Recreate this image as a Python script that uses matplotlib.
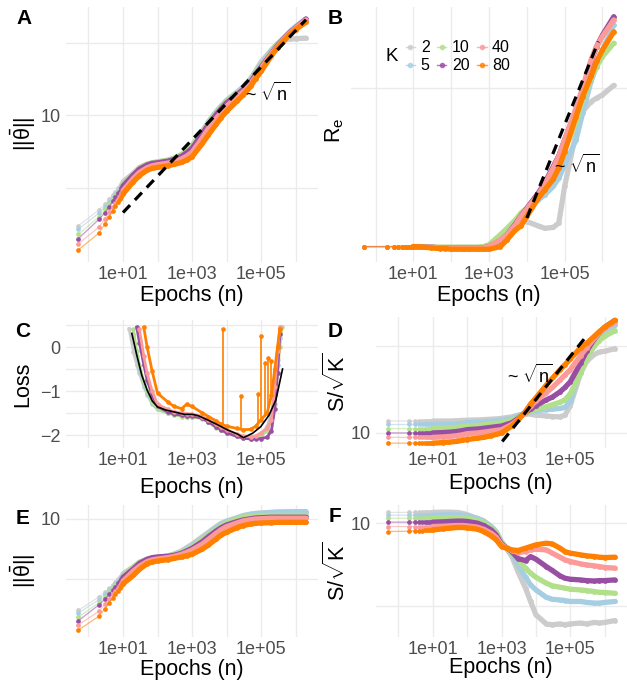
import matplotlib
matplotlib.use('Agg')
import matplotlib.pyplot as plt
from matplotlib.lines import Line2D
from matplotlib.ticker import FixedLocator, FixedFormatter, NullFormatter
import numpy as np

plt.rcParams['font.family'] = ['Liberation Sans', 'DejaVu Sans']
plt.rcParams['mathtext.fontset'] = 'custom'
plt.rcParams['mathtext.rm'] = 'Liberation Sans'
plt.rcParams['mathtext.it'] = 'Liberation Sans:italic'
plt.rcParams['mathtext.bf'] = 'Liberation Sans:bold'

K_values = [2, 5, 10, 20, 40, 80]
colors = ['#CCCCCC', '#A6CEE3', '#B2DF8A', '#984EA3', '#FB9A99', '#FF7F00']

epochs = [0.5, 2, 3, 4, 5, 6, 7, 8, 9, 10, 20, 30, 50, 70, 100, 200, 300, 500, 700,
          1e3, 2e3, 3e3, 5e3, 7e3, 1e4, 2e4, 3e4, 5e4, 7e4, 1e5, 2e5, 3e5, 5e5, 7e5, 1e6, 2e6]

# A: parameter norm, first run
norm_a = [
    [0.30, 0.50, 0.60, 0.70, 0.80, 0.89, 0.99, 1.06, 1.13, 1.22, 1.59, 1.90, 2.13, 2.22, 2.27, 2.39, 2.52, 2.83, 3.2,
     3.8, 6.0, 8.1, 11.1, 13.3, 16.0, 20.9, 24.4, 32, 41, 54, 79, 96, 110, 112, 113, 115],
    [0.27, 0.45, 0.555, 0.65, 0.745, 0.83, 0.92, 0.99, 1.06, 1.13, 1.56, 1.86, 2.09, 2.18, 2.22, 2.37, 2.5, 2.8, 3.2,
     3.7, 5.9, 8.1, 11.1, 13.3, 16.0, 20.2, 23.7, 31, 39, 50, 78, 96, 122, 143, 166, 211],
    [0.23, 0.40, 0.51, 0.60, 0.70, 0.785, 0.87, 0.94, 1.01, 1.09, 1.57, 1.90, 2.13, 2.22, 2.29, 2.42, 2.58, 2.9, 3.2,
     3.8, 6.0, 7.9, 10.8, 13.0, 15.6, 19.8, 23.2, 30, 38, 48, 75, 93, 118, 137, 157, 195],
    [0.20, 0.37, 0.46, 0.555, 0.66, 0.745, 0.845, 0.91, 0.99, 1.06, 1.51, 1.82, 2.07, 2.18, 2.22, 2.34, 2.47, 2.74, 3.05,
     3.5, 5.6, 7.5, 10.2, 12.3, 14.8, 19.2, 22.5, 28.6, 36.5, 46, 71, 91, 118, 139, 159, 211],
    [0.17, 0.29, 0.38, 0.47, 0.555, 0.63, 0.71, 0.78, 0.845, 0.92, 1.36, 1.64, 1.90, 2.02, 2.09, 2.2, 2.29, 2.52, 2.74,
     3.1, 4.9, 6.6, 9.0, 10.9, 13.3, 17.8, 20.9, 27.2, 34, 44, 70, 88, 116, 136, 157, 205],
    [0.14, 0.24, 0.32, 0.40, 0.49, 0.57, 0.64, 0.71, 0.76, 0.83, 1.22, 1.48, 1.76, 1.86, 1.92, 2.02, 2.11, 2.25, 2.42,
     2.69, 4.1, 5.4, 7.5, 9.3, 11.3, 15.7, 18.8, 25, 32, 40, 66, 85, 111, 131, 151, 190],
]
sqrt_a_n = [10, 2e6]
sqrt_a_v = [0.46, 206]

# B: effective rank
rank_b = [
    [1.11, 1.11, 1.11, 1.11, 1.11, 1.11, 1.11, 1.11, 1.11, 1.11, 1.11, 1.10, 1.10, 1.10, 1.10, 1.10, 1.10, 1.10, 1.10,
     1.12, 1.25, 1.37, 1.57, 1.61, 1.57, 1.48, 1.43, 1.45, 1.54, 2.56, 5.36, 7.24, 8.3, 8.71, 9.12, 10.4],
    [1.11, 1.11, 1.11, 1.11, 1.11, 1.11, 1.11, 1.11, 1.11, 1.11, 1.10, 1.10, 1.09, 1.09, 1.09, 1.09, 1.09, 1.09, 1.09,
     1.10, 1.21, 1.31, 1.52, 1.69, 1.83, 2.12, 2.28, 2.56, 2.87, 3.45, 4.88, 7.07, 11.0, 13.5, 17.0, 24.1],
    [1.11, 1.11, 1.11, 1.11, 1.11, 1.11, 1.11, 1.11, 1.11, 1.11, 1.10, 1.10, 1.10, 1.10, 1.10, 1.10, 1.10, 1.10, 1.11,
     1.14, 1.31, 1.43, 1.61, 1.77, 1.89, 2.22, 2.56, 3.0, 3.37, 4.25, 6.3, 8.5, 11.5, 13.5, 15.5, 18.7],
    [1.11, 1.11, 1.11, 1.11, 1.11, 1.11, 1.11, 1.11, 1.11, 1.11, 1.10, 1.10, 1.09, 1.09, 1.09, 1.09, 1.09, 1.09, 1.09,
     1.11, 1.21, 1.31, 1.52, 1.70, 1.89, 2.33, 2.70, 3.37, 3.91, 4.88, 7.4, 9.8, 14.5, 17.8, 20.9, 27],
    [1.11, 1.11, 1.11, 1.11, 1.11, 1.11, 1.11, 1.11, 1.11, 1.11, 1.10, 1.10, 1.09, 1.09, 1.09, 1.09, 1.09, 1.09, 1.09,
     1.11, 1.22, 1.31, 1.50, 1.69, 1.87, 2.28, 2.64, 3.30, 3.88, 4.88, 7.58, 10.1, 14.8, 17.8, 20.5, 25.8],
    [1.11, 1.11, 1.11, 1.11, 1.11, 1.11, 1.11, 1.11, 1.11, 1.11, 1.10, 1.09, 1.08, 1.08, 1.07, 1.07, 1.07, 1.07, 1.07,
     1.07, 1.11, 1.22, 1.40, 1.48, 1.69, 2.17, 2.44, 2.83, 3.30, 4.15, 6.75, 8.9, 11.8, 14.5, 17.0, 21.9],
]
sqrt_b_n = [1.0e4, 7.8e5]
sqrt_b_v = [1.65, 19.1]

# C: loss
loss_epochs = [15, 20, 25, 30, 40, 50, 70, 100, 200, 300, 500, 700, 1e3, 2e3, 3e3, 5e3, 7e3, 1e4, 2e4, 3e4,
               5e4, 7e4, 1e5, 1.5e5, 2e5, 2.5e5, 3e5, 3.5e5, 4e5]
nan = float('nan')
loss_c = [
    [0.42, -0.11, -0.41, -0.6, -0.9, -1.08, -1.3, -1.42, -1.5, -1.53, -1.57, -1.58, -1.58, -1.62, -1.7, -1.82, -1.88,
     -1.94, -2.02, -2.06, -2.08, -2.05, -2.0, -1.8, -1.5, -1.0, -0.3, 0.3, nan],
    [nan, 0.3, -0.2, -0.5, -0.85, -1.05, -1.28, -1.42, -1.5, -1.53, -1.56, -1.58, -1.58, -1.62, -1.7, -1.82, -1.88,
     -1.94, -2.02, -2.06, -2.08, -2.05, -2.0, -1.85, -1.55, -1.1, -0.4, 0.2, nan],
    [nan, 0.4, -0.1, -0.4, -0.8, -1.0, -1.25, -1.4, -1.5, -1.54, -1.58, -1.59, -1.59, -1.63, -1.71, -1.83, -1.89,
     -1.95, -2.03, -2.07, -2.08, -2.06, -2.02, -1.9, -1.65, -1.3, -0.6, 0.0, 0.45],
    [nan, nan, 0.45, 0.1, -0.4, -0.75, -1.1, -1.35, -1.48, -1.52, -1.55, -1.57, -1.57, -1.62, -1.7, -1.82, -1.88,
     -1.95, -2.03, -2.07, -2.09, -2.09, -2.08, -2.05, -1.9, -1.4, -0.6, 0.3, nan],
    [nan, nan, nan, 0.4, -0.2, -0.6, -1.0, -1.3, -1.42, -1.47, -1.5, -1.52, -1.52, -1.58, -1.65, -1.76, -1.82,
     -1.88, -1.98, -2.02, -2.04, -2.02, -1.95, -1.85, -1.65, -0.9, -0.1, 0.45, nan],
    [nan, nan, nan, nan, 0.45, 0.0, -0.55, -1.05, -1.25, -1.35, -1.4, -1.3, -1.35, -1.5, -1.58, -1.68, -1.75,
     -1.8, -1.85, -1.88, -1.87, -1.8, -1.65, -1.5, -1.1, -0.5, 0.0, 0.4, nan],
]
spike_epochs = [8.1e3, 2.6e4, 7.9e4, 1.03e5, 1.26e5, 1.6e5, 1.9e5]
spike_base = [-1.77, -1.87, -1.78, -1.65, -1.58, -1.45, -1.2]
spike_top = [0.42, -1.11, -1.07, 0.26, -0.37, -0.26, -0.31]
smooth_epochs = [18, 25, 35, 50, 71, 100, 170, 320, 600, 1000, 1500, 2900, 5600, 1.1e4, 2.1e4, 3.1e4,
                 5.7e4, 9.8e4, 1.7e5, 2.7e5, 4.2e5]
smooth_loss = [0.31, -0.18, -0.64, -0.98, -1.23, -1.36, -1.43, -1.48, -1.53, -1.53, -1.56, -1.66, -1.77, -1.89,
               -1.98, -2.06, -1.96, -1.81, -1.55, -1.20, -0.50]

# D: S / sqrt(K), first run
s_d = [
    [13.7, 13.7, 13.7, 13.7, 13.7, 13.7, 13.7, 13.7, 13.7, 13.7, 13.7, 13.7, 13.8, 13.9, 14.0, 14.1, 14.2, 14.4, 14.5,
     14.7, 15.3, 16.0, 16.7, 16.4, 16.0, 15.7, 15.4, 15.3, 16.0, 20.6, 48.5, 66.6, 79.8, 85, 87, 93],
    [12.5, 12.5, 12.5, 12.5, 12.5, 12.5, 12.5, 12.5, 12.5, 12.5, 12.6, 12.6, 12.7, 12.8, 13.1, 13.2, 13.4, 13.6, 13.8,
     14.0, 14.6, 15.6, 16.9, 17.5, 18.0, 18.5, 18.8, 19.1, 19.7, 23.2, 55.6, 83.5, 115, 131, 150, 172],
    [11.2, 11.2, 11.2, 11.2, 11.2, 11.2, 11.2, 11.2, 11.2, 11.2, 11.3, 11.4, 11.6, 11.8, 12.0, 12.2, 12.4, 12.7, 12.9,
     13.1, 14.0, 15.0, 17.0, 18.0, 18.8, 20.0, 21.1, 22.5, 24.0, 28.2, 48.5, 72.9, 100, 115, 129, 150],
    [10.0, 10.0, 10.0, 10.0, 10.0, 10.0, 10.0, 10.0, 10.0, 10.0, 10.1, 10.2, 10.4, 10.6, 10.9, 11.1, 11.3, 11.6, 11.8,
     12.0, 13.1, 14.6, 17.2, 18.8, 20.6, 24.0, 25.8, 29.6, 33.3, 38.7, 63.7, 87.3, 120, 141, 164, 197],
    [8.9, 8.9, 8.9, 8.9, 8.9, 8.9, 8.9, 8.9, 8.9, 8.9, 9.0, 9.1, 9.3, 9.5, 9.8, 10.0, 10.2, 10.5, 10.7,
     10.9, 12.5, 14.2, 17.5, 20.2, 23.2, 29.0, 33.3, 40.5, 46.4, 53.1, 77.6, 95.5, 122, 141, 160, 188],
    [7.63, 7.63, 7.63, 7.63, 7.63, 7.63, 7.63, 7.63, 7.63, 7.63, 7.75, 7.85, 8.0, 8.2, 8.4, 8.7, 8.9, 9.3, 9.6,
     10.0, 12.0, 14.0, 17.7, 21.5, 25.3, 35.4, 42.4, 53.1, 60.8, 71, 95.5, 107, 129, 146, 164, 197],
]
sqrt_d_n = [1.05e3, 3.3e5]
sqrt_d_v = [7.98, 137]

# E: parameter norm, second run
norm_e = [
    [0.30, 0.50, 0.60, 0.70, 0.80, 0.89, 0.99, 1.06, 1.13, 1.22, 1.59, 1.90, 2.13, 2.22, 2.3, 2.42, 2.6, 2.93, 3.33,
     3.78, 5.08, 6.0, 7.45, 8.47, 9.26, 10.5, 11.4, 12.0, 12.4, 12.6, 12.9, 13.1, 13.1, 13.2, 13.2, 13.2],
    [0.27, 0.45, 0.555, 0.65, 0.745, 0.83, 0.92, 0.99, 1.06, 1.13, 1.56, 1.86, 2.09, 2.18, 2.25, 2.4, 2.55, 2.85, 3.16,
     3.59, 4.76, 5.7, 7.17, 8.15, 9.03, 10.3, 11.2, 12.0, 12.3, 12.4, 12.8, 12.9, 13.1, 13.1, 13.2, 13.2],
    [0.23, 0.40, 0.51, 0.60, 0.70, 0.785, 0.87, 0.94, 1.01, 1.09, 1.57, 1.90, 2.13, 2.22, 2.3, 2.42, 2.55, 2.78, 3.04,
     3.41, 4.58, 5.41, 6.73, 7.74, 8.58, 10.0, 10.8, 11.2, 11.4, 11.4, 11.5, 11.5, 11.5, 11.5, 11.5, 11.5],
    [0.20, 0.37, 0.46, 0.555, 0.66, 0.745, 0.845, 0.91, 0.99, 1.06, 1.47, 1.82, 2.13, 2.27, 2.33, 2.39, 2.48, 2.68, 2.93,
     3.24, 4.19, 5.08, 6.31, 7.17, 7.94, 9.03, 9.62, 10.1, 10.4, 10.5, 10.7, 10.7, 10.7, 10.7, 10.7, 10.7],
    [0.17, 0.29, 0.38, 0.47, 0.555, 0.63, 0.71, 0.78, 0.845, 0.92, 1.36, 1.64, 1.95, 2.08, 2.15, 2.27, 2.38, 2.58, 2.78,
     3.04, 3.83, 4.58, 5.77, 6.64, 7.45, 8.58, 9.26, 9.75, 10.0, 10.1, 10.3, 10.3, 10.3, 10.3, 10.3, 10.3],
    [0.14, 0.24, 0.32, 0.40, 0.49, 0.57, 0.64, 0.71, 0.76, 0.83, 1.15, 1.45, 1.8, 1.92, 2.0, 2.1, 2.2, 2.33, 2.45,
     2.58, 3.16, 3.69, 4.64, 5.41, 6.0, 7.17, 7.74, 8.26, 8.47, 8.58, 8.69, 8.8, 8.8, 8.8, 8.8, 8.8],
]

# F: S / sqrt(K), second run
s_f = [
    [13.5, 13.5, 13.5, 13.5, 13.5, 13.5, 13.5, 13.5, 13.5, 13.5, 13.6, 13.6, 13.5, 13.2, 12.7, 11.4, 10.7, 9.12, 7.93,
     6.0, 3.95, 2.6, 1.64, 1.13, 0.78, 0.605, 0.59, 0.605, 0.59, 0.605, 0.62, 0.605, 0.63, 0.62, 0.63, 0.665],
    [12.5, 12.5, 12.5, 12.5, 12.5, 12.5, 12.5, 12.5, 12.5, 12.5, 12.6, 12.6, 12.6, 12.5, 12.3, 11.4, 10.6, 9.12, 7.78,
     5.89, 4.26, 3.13, 2.22, 1.79, 1.56, 1.27, 1.2, 1.18, 1.16, 1.13, 1.13, 1.1, 1.08, 1.08, 1.1, 1.13],
    [11.5, 11.5, 11.5, 11.5, 11.5, 11.5, 11.5, 11.5, 11.5, 11.5, 11.6, 11.7, 11.7, 11.6, 11.5, 10.8, 10.1, 8.78, 7.57,
     5.73, 4.42, 3.6, 2.86, 2.48, 2.22, 1.88, 1.75, 1.68, 1.64, 1.59, 1.56, 1.53, 1.49, 1.46, 1.45, 1.42],
    [10.3, 10.3, 10.3, 10.3, 10.3, 10.3, 10.3, 10.3, 10.3, 10.3, 10.4, 10.5, 10.6, 10.6, 10.5, 10.0, 9.38, 8.3, 7.22,
     5.57, 4.54, 3.74, 3.53, 3.95, 3.67, 2.99, 2.68, 2.31, 2.16, 2.1, 2.06, 2.02, 2.0, 2.02, 2.02, 2.06],
    [9.12, 9.12, 9.12, 9.12, 9.12, 9.12, 9.12, 9.12, 9.12, 9.12, 9.2, 9.29, 9.38, 9.38, 9.29, 8.95, 8.46, 7.57, 6.77,
     5.42, 4.67, 4.42, 4.54, 4.76, 4.84, 4.76, 4.34, 3.88, 3.6, 3.44, 3.22, 3.13, 3.05, 2.99, 2.91, 2.86],
    [7.93, 8.0, 8.08, 8.1, 8.15, 8.2, 8.25, 8.28, 8.3, 8.3, 8.54, 8.7, 8.87, 8.87, 8.78, 8.46, 7.93, 7.03, 6.29,
     5.22, 4.76, 4.67, 4.99, 5.22, 5.47, 5.73, 5.62, 4.99, 4.54, 4.34, 4.14, 4.03, 3.95, 3.88, 3.84, 3.88],
]

W, H = 627, 680
fig = plt.figure(figsize=(W / 100, H / 100), dpi=100)


def add_ax(l, t, r, b):
    return fig.add_axes([l / W, 1 - b / H, (r - l) / W, (b - t) / H])


def style(ax, ylog, ylim, ymaj, ylab, ymin):
    ax.set_xscale('log')
    ax.set_xlim(0.223, 4.47e6)
    if ylog:
        ax.set_yscale('log')
    ax.set_ylim(*ylim)
    ax.xaxis.set_major_locator(FixedLocator([10, 1e3, 1e5]))
    ax.xaxis.set_major_formatter(FixedFormatter(['1e+01', '1e+03', '1e+05']))
    ax.xaxis.set_minor_locator(FixedLocator([1, 100, 1e4, 1e6]))
    ax.xaxis.set_minor_formatter(NullFormatter())
    ax.yaxis.set_major_locator(FixedLocator(ymaj))
    ax.yaxis.set_major_formatter(FixedFormatter(ylab))
    ax.yaxis.set_minor_locator(FixedLocator(ymin))
    ax.yaxis.set_minor_formatter(NullFormatter())
    ax.grid(True, which='both', color='#EBEBEB', lw=1.0)
    ax.set_axisbelow(True)
    for s in ax.spines.values():
        s.set_visible(False)
    ax.tick_params(which='both', length=0, labelsize=13, labelcolor='#4D4D4D')
    ax.tick_params(axis='x', pad=3)
    ax.tick_params(axis='y', pad=4)


def draw_runs(ax, x, runs, band=3.8, ms=3.4):
    x = np.asarray(x)
    for i, (vals, c) in enumerate(zip(runs, colors)):
        y = np.asarray(vals, dtype=float)
        ax.plot(x, y, color=c, lw=0.9, alpha=0.55, zorder=2 + i)
        if band > 0:
            ax.plot(x[9:], y[9:], color=c, lw=band, solid_capstyle='round', zorder=2 + i)
        ax.plot(x, y, ls='none', marker='o', ms=ms, color=c, mec='none', zorder=2 + i)


def dashed(ax, n, v):
    ax.plot(n, v, color='black', lw=2.3, dashes=(3.2, 2.2), zorder=20)


# panel A
axA = add_ax(66, 6.7, 318, 261.7)
style(axA, True, (0.097, 311), [10], ['10'], [1, 100])
draw_runs(axA, epochs, norm_a)
dashed(axA, sqrt_a_n, sqrt_a_v)
axA.text(3.5e4, 20, r'~ $\sqrt{\mathrm{n}}$', fontsize=13, ha='left', va='center', zorder=21)

# panel B
axB = add_ax(351, 6.7, 627, 261.7)
style(axB, True, (0.90, 31), [10], [''], [])
draw_runs(axB, epochs, rank_b)
dashed(axB, sqrt_b_n, sqrt_b_v)
axB.text(5.1e4, 3.45, r'~ $\sqrt{\mathrm{n}}$', fontsize=13, ha='left', va='center', zorder=21)
handles = [Line2D([0], [0], color=c, marker='o', ms=3, lw=1.0, alpha=0.75) for c in colors]
axB.legend(handles, [str(k) for k in K_values], ncol=3, loc='upper left',
           bbox_to_anchor=(405.6 / W, 1 - 40.3 / H), bbox_transform=fig.transFigure,
           frameon=False, fontsize=11.5, handlelength=0.6, handletextpad=0.35,
           columnspacing=0.45, labelspacing=0.19, borderpad=0, borderaxespad=0)
fig.text(391.7 / W, 1 - 56.7 / H, 'K', fontsize=13.4, ha='center', va='center')

# panel C
axC = add_ax(66, 320, 318, 448)
style(axC, False, (-2.295, 0.614), [-2, -1, 0], ['\u22122', '\u22121', '0'], [-1.5, -0.5, 0.5])
xl = np.asarray(loss_epochs)
for i, (vals, c) in enumerate(zip(loss_c, colors)):
    y = np.asarray(vals, dtype=float)
    axC.plot(xl, y, color=c, lw=2.0, zorder=2 + i)
    axC.plot(xl, y, ls='none', marker='o', ms=3.3, color=c, mec='none', zorder=2 + i)
axC.vlines(spike_epochs, spike_base, spike_top, color=colors[5], lw=1.2, zorder=8)
axC.plot(spike_epochs, spike_top, ls='none', marker='o', ms=3.3, color=colors[5], mec='none', zorder=8)
axC.plot(smooth_epochs, smooth_loss, color='black', lw=1.2, zorder=20)

# panel D
axD = add_ax(376, 317, 627, 448)
style(axD, True, (6.71, 215), [10], ['10'], [100])
draw_runs(axD, epochs, s_d)
dashed(axD, sqrt_d_n, sqrt_d_v)
axD.text(1.45e3, 46.4, r'~ $\sqrt{\mathrm{n}}$', fontsize=13, ha='left', va='center', zorder=21)

# panel E
axE = add_ax(66, 505, 318, 637)
style(axE, True, (0.108, 17.1), [10], ['10'], [1])
draw_runs(axE, epochs, norm_e)

# panel F
axF = add_ax(376, 505, 627, 637)
style(axF, True, (0.42, 16.6), [10], ['10'], [1])
draw_runs(axF, epochs, s_f)

# axis titles and panel letters
theta_lab = '$||\\bar{\\mathrm{\u03b8}}||$'
s_lab = r'S/$\sqrt{\mathrm{K}}$'
for (x, y, t) in [(23, 134, theta_lab), (335, 130, r'R$_\mathrm{e}$'), (23, 384, 'Loss'),
                  (337, 382, s_lab), (23, 571, theta_lab), (337, 571, s_lab)]:
    fig.text(x / W, 1 - y / H, t, fontsize=15.5, rotation=90, ha='center', va='center')

for (x, y) in [(192, 295), (489, 295), (192, 487), (501, 484), (192, 669), (501, 668)]:
    fig.text(x / W, 1 - y / H, 'Epochs (n)', fontsize=15.5, ha='center', va='center')

for (x, y, t) in [(24, 19, 'A'), (335, 19, 'B'), (23, 331, 'C'), (335, 331, 'D'),
                  (23, 519, 'E'), (335, 517, 'F')]:
    fig.text(x / W, 1 - y / H, t, fontsize=15, fontweight='bold', ha='center', va='center')

fig.savefig('out.png', dpi=100)
